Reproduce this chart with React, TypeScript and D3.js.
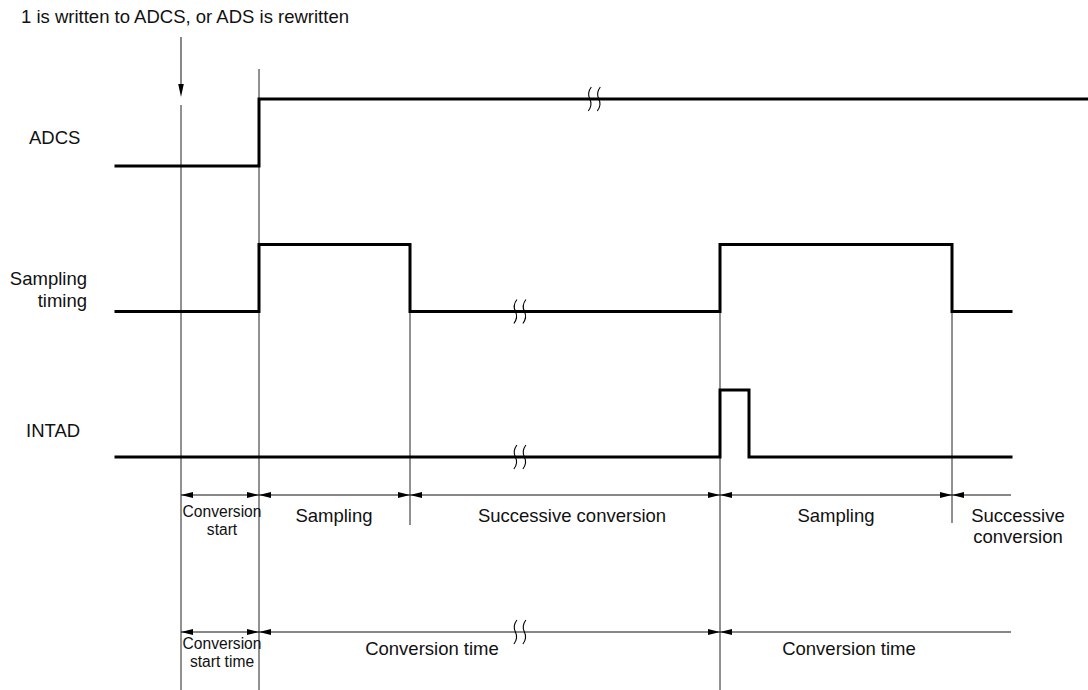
import React from "react";
import * as d3 from "d3";

// event times (abstract units) and their positions on the time axis
const timeDomain = [0, 1, 2, 3, 4, 5, 6, 7];
const timeRange = [116, 181, 259, 410, 720, 952, 1011, 1088];

const signalNames = ["ADCS", "Sampling timing", "INTAD"];
// each signal: list of [time, level]
const adcs: [number, number][] = [[0, 0], [2, 0], [2, 1], [7, 1]];
const sampling: [number, number][] = [[0, 0], [2, 0], [2, 1], [3, 1], [3, 0], [4, 0], [4, 1], [5, 1], [5, 0], [6, 0]];
const intad: [number, number][] = [[0, 0], [4, 0], [4, 1], [4.125, 1], [4.125, 0], [6, 0]];
const signals = [adcs, sampling, intad];
const adcsBreakTime = 3.58;
const lowBreakTime = 3.34;

const row1Segments = [
  { from: 1, to: 2, label: ["Conversion", "start"], small: true, arrows: [true, true] },
  { from: 2, to: 3, label: ["Sampling"], small: false, arrows: [true, true] },
  { from: 3, to: 4, label: ["Successive conversion"], small: false, arrows: [true, true] },
  { from: 4, to: 5, label: ["Sampling"], small: false, arrows: [true, true] },
  { from: 5, to: 6, label: ["Successive", "conversion"], small: false, arrows: [true, false] },
];
const row2Segments = [
  { from: 1, to: 2, label: ["Conversion", "start time"], small: true, arrows: [true, true] },
  { from: 2, to: 4, label: ["Conversion time"], small: false, arrows: [true, true] },
  { from: 4, to: 6, label: ["Conversion time"], small: false, arrows: [true, false] },
];
const row1LabelX = [222, 334, 572, 836, 1018];
const row2LabelX = [222, 432, 849];

const FONT = "'Liberation Sans', Arial, sans-serif";

export default function App() {
  const x = d3.scaleLinear().domain(timeDomain).range(timeRange);
  const rowY = d3.scalePoint<string>().domain(signalNames).range([166, 457]);
  const amp = 67;
  const yOf = (name: string, level: number) => (rowY(name) as number) - level * amp;

  const lineGen = (name: string) =>
    d3.line<[number, number]>().x((d) => x(d[0])).y((d) => yOf(name, d[1]));

  const squiggle = (cx: number, cy: number, key: string) => (
    <g key={key} fill="none" stroke="#000" strokeWidth={1.1}>
      {[0, 9].map((dx) => {
        const sx = cx + dx;
        return (
          <path
            key={dx}
            d={`M${sx + 1.5},${cy - 12} Q${sx - 3},${cy - 6} ${sx},${cy} Q${sx + 3},${cy + 6} ${sx - 1.5},${cy + 12}`}
          />
        );
      })}
    </g>
  );

  const arrowHead = (tipX: number, y: number, dir: number, key: string) => {
    const len = 12;
    const hw = 3;
    return (
      <path
        key={key}
        d={`M${tipX},${y} L${tipX - dir * len},${y - hw} L${tipX - dir * len},${y + hw} Z`}
        fill="#000"
      />
    );
  };

  const dimRow = (
    segs: typeof row1Segments,
    y: number,
    labelX: number[],
    lineEnd: number,
    key: string,
    singleY: number,
    smallY: number
  ) => (
    <g key={key}>
      <line x1={x(1)} x2={lineEnd} y1={y} y2={y} stroke="#111" strokeWidth={1} />
      {segs.map((s, i) => (
        <g key={i}>
          {s.arrows[0] && arrowHead(x(s.from), y, -1, "a" + i)}
          {s.arrows[1] && arrowHead(x(s.to), y, 1, "b" + i)}
          {s.label.map((t, j) => (
            <text
              key={j}
              x={labelX[i]}
              y={(s.small ? smallY : singleY) + j * (s.small ? 17.5 : 21)}
              textAnchor="middle"
              fontFamily={FONT}
              fontSize={s.small ? 15.6 : 18.5}
              fill="#111"
            >
              {t}
            </text>
          ))}
        </g>
      ))}
    </g>
  );

  return (
    <svg
      width={1088}
      height={690}
      style={{ position: "absolute", left: 0, top: 0, background: "#fff" }}
    >
      <rect width={1088} height={690} fill="#fff" />
      {/* title and pointer arrow */}
      <text x={21} y={22.5} fontFamily={FONT} fontSize={18.5} fill="#111">
        1 is written to ADCS, or ADS is rewritten
      </text>
      <line x1={x(1)} x2={x(1)} y1={37} y2={86} stroke="#111" strokeWidth={1} />
      <path d={`M${x(1)},97 L${x(1) - 2.8},84 L${x(1) + 2.8},84 Z`} fill="#000" />

      {/* vertical guide lines */}
      <g stroke="#222" strokeWidth={1}>
        <line x1={x(1)} x2={x(1)} y1={105} y2={690} />
        <line x1={x(2)} x2={x(2)} y1={69} y2={690} />
        <line x1={x(3)} x2={x(3)} y1={243} y2={525} />
        <line x1={x(4)} x2={x(4)} y1={243} y2={690} />
        <line x1={x(5)} x2={x(5)} y1={243} y2={523} />
      </g>

      {/* signal labels */}
      <g fontFamily={FONT} fontSize={18.5} fill="#111">
        <text x={29} y={144}>ADCS</text>
        <text x={87} y={285} textAnchor="end">Sampling</text>
        <text x={87} y={307} textAnchor="end">timing</text>
        <text x={26} y={437}>INTAD</text>
      </g>

      {/* signals */}
      {signals.map((s, i) => (
        <path
          key={i}
          d={lineGen(signalNames[i])(s) as string}
          fill="none"
          stroke="#000"
          strokeWidth={3}
          strokeLinejoin="miter"
          strokeLinecap="square"
        />
      ))}
      {squiggle(x(adcsBreakTime), yOf("ADCS", 1), "b0")}
      {squiggle(x(lowBreakTime), yOf("Sampling timing", 0), "b1")}
      {squiggle(x(lowBreakTime), yOf("INTAD", 0), "b2")}

      {/* dimension rows */}
      {dimRow(row1Segments, 495, row1LabelX, x(6), "r1", 522, 517)}
      {dimRow(row2Segments, 632, row2LabelX, x(6), "r2", 655, 649)}
      {squiggle(x(lowBreakTime), 632, "b3")}
    </svg>
  );
}
